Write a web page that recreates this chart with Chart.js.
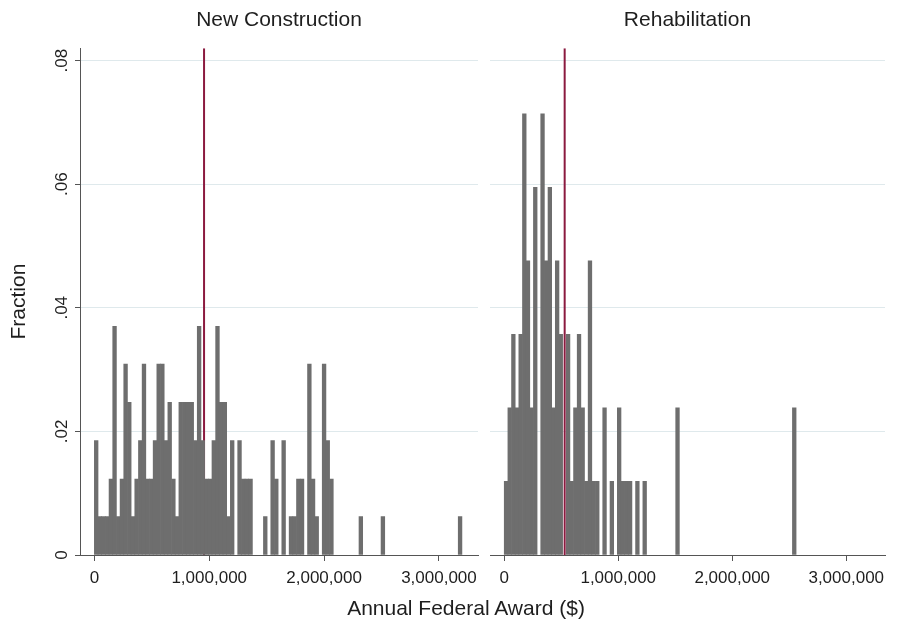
<!DOCTYPE html>
<html lang="en">
<head>
<meta charset="UTF-8">
<title>Annual Federal Award by Project Type</title>
<script src="https://cdn.jsdelivr.net/npm/chart.js"></script>
<style>
    body {
        margin: 0;
        background: #ffffff;
        overflow: hidden;
        font-family: 'Liberation Sans', Arial, sans-serif;
    }
    #wrap {
        position: relative;
        width: 899px;
        height: 622px;
    }
    #leftChart { position: absolute; left: 0; top: 0; }
    #rightChart { position: absolute; left: 482px; top: 0; }
    #xTitle {
        position: absolute;
        left: 266px;
        width: 400px;
        top: 595px;
        text-align: center;
        font-size: 21px;
        line-height: 25px;
        color: #1e1e1e;
    }
</style>
</head>
<body>
<div id="wrap">
    <canvas id="leftChart" width="480" height="622"></canvas>
    <canvas id="rightChart" width="417" height="622"></canvas>
    <div id="xTitle">Annual Federal Award ($)</div>
</div>

<script>
// histogram bins (dollars)
const binStart = 0;
const binWidth = 32000;

// fraction of projects in each bin
const newConstruction = [
    .0185, .0062, .0062, .0062, .0123, .0370, .0062, .0123, .0309, .0247,
    .0062, .0123, .0185, .0309, .0123, .0123, .0185, .0309, .0309, .0185,
    .0247, .0123, .0062, .0247, .0247, .0247, .0247, .0185, .0370, .0185,
    .0123, .0123, .0185, .0370, .0247, .0247, .0062, .0185, 0, .0185,
    .0123, .0123, .0123, 0, 0, 0, .0062, 0, .0185, .0123,
    0, .0185, 0, .0062, .0062, .0123, .0123, 0, .0309, .0123,
    .0062, 0, .0309, .0185, .0123, 0, 0, 0, 0, 0,
    0, 0, .0062, 0, 0, 0, 0, 0, .0062, 0,
    0, 0, 0, 0, 0, 0, 0, 0, 0, 0,
    0, 0, 0, 0, 0, 0, 0, 0, 0, .0062
];
const rehabilitation = [
    .0119, .0238, .0357, .0238, .0357, .0714, .0476, .0238, .0595, 0,
    .0714, .0476, .0595, .0238, .0476, .0357, 0, .0357, .0119, .0238,
    .0357, .0238, .0119, .0476, .0119, .0119, 0, .0238, 0, .0119,
    0, .0238, .0119, .0119, .0119, 0, .0119, 0, .0119, 0,
    0, 0, 0, 0, 0, 0, 0, .0238, 0, 0,
    0, 0, 0, 0, 0, 0, 0, 0, 0, 0,
    0, 0, 0, 0, 0, 0, 0, 0, 0, 0,
    0, 0, 0, 0, 0, 0, 0, 0, 0, .0238
];

// mean award for each group
const meanNew = 955000;
const meanRehab = 530000;

const panelTitles = ['New Construction', 'Rehabilitation'];
const xTicks = [0, 1000000, 2000000, 3000000];
const xTickLabels = ['0', '1,000,000', '2,000,000', '3,000,000'];
const yTicks = [0, 0.02, 0.04, 0.06, 0.08];
const yTickLabels = ['0', '.02', '.04', '.06', '.08'];

const FONT = "'Liberation Sans', Arial, sans-serif";
const TEXT = '#1e1e1e';
const AXIS = '#555555';
const X_MIN = -125000, X_MAX = 3340000, Y_MAX = 0.082;

// y tick labels are drawn turned on their side
const sideLabels = {
    id: 'sideLabels',
    afterDraw(chart) {
        const ys = chart.scales.y;
        const ctx = chart.ctx;
        ctx.save();
        ctx.font = '17px ' + FONT;
        ctx.fillStyle = TEXT;
        ctx.textAlign = 'center';
        ctx.textBaseline = 'middle';
        yTicks.forEach((v, i) => {
            const py = ys.getPixelForValue(v);
            ctx.save();
            ctx.translate(62, py);
            ctx.rotate(-Math.PI / 2);
            ctx.fillText(yTickLabels[i], 0, 0);
            ctx.restore();
        });
        ctx.restore();
    }
};

function makePanel(id, title, values, mean, isLeft) {
    // empty bins are left out so nothing is drawn on the baseline
    const bars = values
        .map((v, i) => ({ x: binStart + binWidth * (i + 0.5), y: v }))
        .filter(p => p.y > 0);
    return new Chart(document.getElementById(id), {
        type: 'bar',
        data: {
            datasets: [
                {
                    type: 'bar',
                    data: bars,
                    backgroundColor: '#6e6e6e',
                    borderWidth: 0,
                    barPercentage: 1,
                    categoryPercentage: 1,
                    order: 1
                },
                {
                    type: 'line',
                    data: [{ x: mean, y: 0 }, { x: mean, y: Y_MAX }],
                    borderColor: '#8b1a3f',
                    borderWidth: 2,
                    pointRadius: 0,
                    order: 2
                }
            ]
        },
        options: {
            responsive: false,
            animation: false,
            layout: { padding: { top: 8, right: isLeft ? 2 : 14, left: 0, bottom: 0 } },
            plugins: {
                legend: { display: false },
                tooltip: { enabled: false },
                title: {
                    display: true,
                    text: title,
                    fullSize: false,
                    color: TEXT,
                    font: { family: FONT, size: 21, weight: 'normal' },
                    padding: { top: 0, bottom: 15 }
                }
            },
            scales: {
                x: {
                    type: 'linear',
                    min: X_MIN,
                    max: X_MAX,
                    offset: false,
                    afterBuildTicks: s => { s.ticks = xTicks.map(v => ({ value: v })); },
                    ticks: {
                        autoSkip: false,
                        maxRotation: 0,
                        padding: 7,
                        color: TEXT,
                        font: { family: FONT, size: 17 },
                        callback: v => xTickLabels[xTicks.indexOf(v)]
                    },
                    grid: { drawOnChartArea: false, offset: false, tickLength: 6, tickColor: AXIS },
                    border: { display: true, color: AXIS },
                    afterFit: s => {
                        s.height = 67;
                        s.paddingLeft = 0;
                        s.paddingRight = 0;
                    }
                },
                y: {
                    min: 0,
                    max: Y_MAX,
                    afterBuildTicks: s => { s.ticks = yTicks.map(v => ({ value: v })); },
                    ticks: { display: false },
                    grid: { color: '#dfe9ec', tickColor: AXIS, tickLength: 5, drawTicks: isLeft },
                    border: { display: isLeft, color: AXIS },
                    title: {
                        display: isLeft,
                        text: 'Fraction',
                        color: TEXT,
                        font: { family: FONT, size: 21 },
                        padding: { top: 7, bottom: 0 }
                    },
                    afterFit: s => { s.width = isLeft ? 80 : 8; }
                }
            }
        },
        plugins: isLeft ? [sideLabels] : []
    });
}

makePanel('leftChart', panelTitles[0], newConstruction, meanNew, true);
makePanel('rightChart', panelTitles[1], rehabilitation, meanRehab, false);
</script>
</body>
</html>
